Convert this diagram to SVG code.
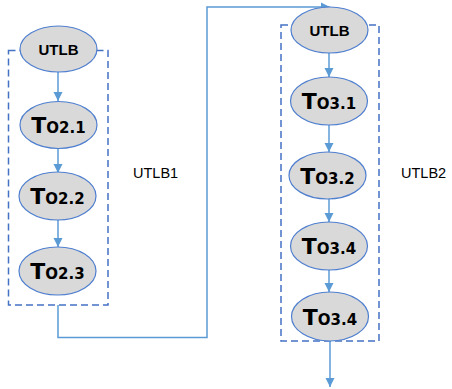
<svg xmlns="http://www.w3.org/2000/svg" width="452" height="389" viewBox="0 0 452 389">
<style>
.n{fill:#d9d9d9;stroke:#4f7fcf;stroke-width:1.2}
.b{fill:none;stroke:#4472c4;stroke-width:1.5;stroke-dasharray:7,4}
.c{fill:none;stroke:#5b9bd5;stroke-width:1.5}
.u{font-family:"Liberation Sans",Arial,sans-serif;font-weight:bold;font-size:15px;fill:#000;text-anchor:middle}
.t{font-family:"DejaVu Sans",sans-serif;font-weight:bold;font-size:22px;fill:#000;text-anchor:middle}
.s{font-size:15px}
.l{font-family:"Liberation Sans",Arial,sans-serif;font-size:14.5px;fill:#000}
</style>
<defs>
<marker id="a" markerWidth="11" markerHeight="11" refX="10" refY="5.5" orient="auto" markerUnits="userSpaceOnUse">
<path d="M1,1 L10,5.5 L1,10 z" fill="#5b9bd5"/>
</marker>
</defs>
<g id="boxes">
<rect class="b" x="8.5" y="50.5" width="99.5" height="254.5"/>
<rect class="b" x="281" y="25" width="98" height="316"/>
</g>
<g id="connectors">
<line class="c" x1="58" y1="72" x2="58" y2="101" marker-end="url(#a)"/>
<line class="c" x1="58" y1="148" x2="58" y2="173" marker-end="url(#a)"/>
<line class="c" x1="58" y1="220" x2="58" y2="247" marker-end="url(#a)"/>
<path class="c" d="M58,305 V337.5 H207 V7 H330" marker-end="url(#a)"/>
<line class="c" x1="329" y1="53" x2="329" y2="77" marker-end="url(#a)"/>
<line class="c" x1="329" y1="125" x2="329" y2="152" marker-end="url(#a)"/>
<line class="c" x1="329" y1="199" x2="329" y2="222" marker-end="url(#a)"/>
<line class="c" x1="329" y1="270" x2="329" y2="292" marker-end="url(#a)"/>
<line class="c" x1="330" y1="341" x2="330" y2="387" marker-end="url(#a)"/>
</g>
<g id="utlb1"><ellipse class="n" cx="58.5" cy="49" rx="38.5" ry="23"/><text class="u" x="58.5" y="54.5">UTLB</text></g>
<g id="to21"><ellipse class="n" cx="58.5" cy="125" rx="38.5" ry="23.5"/><text class="t" x="58.5" y="133">T<tspan class="s">O2.1</tspan></text></g>
<g id="to22"><ellipse class="n" cx="57.5" cy="196" rx="38.5" ry="24"/><text class="t" x="57.5" y="204">T<tspan class="s">O2.2</tspan></text></g>
<g id="to23"><ellipse class="n" cx="57.5" cy="271" rx="38.5" ry="24"/><text class="t" x="57.5" y="279">T<tspan class="s">O2.3</tspan></text></g>
<g id="utlb2"><ellipse class="n" cx="329.5" cy="30" rx="38.5" ry="23"/><text class="u" x="329.5" y="35.5">UTLB</text></g>
<g id="to31"><ellipse class="n" cx="329" cy="101" rx="38.5" ry="24"/><text class="t" x="329" y="109">T<tspan class="s">O3.1</tspan></text></g>
<g id="to32"><ellipse class="n" cx="327.5" cy="175.5" rx="38.5" ry="23.5"/><text class="t" x="327.5" y="183.5">T<tspan class="s">O3.2</tspan></text></g>
<g id="to34a"><ellipse class="n" cx="329" cy="246" rx="38.5" ry="24"/><text class="t" x="329" y="254">T<tspan class="s">O3.4</tspan></text></g>
<g id="to34b"><ellipse class="n" cx="330" cy="316.5" rx="38.5" ry="24.5"/><text class="t" x="330" y="324.5">T<tspan class="s">O3.4</tspan></text></g>
<g id="labels">
<text class="l" x="133" y="178">UTLB1</text>
<text class="l" x="401" y="178">UTLB2</text>
</g>
</svg>
